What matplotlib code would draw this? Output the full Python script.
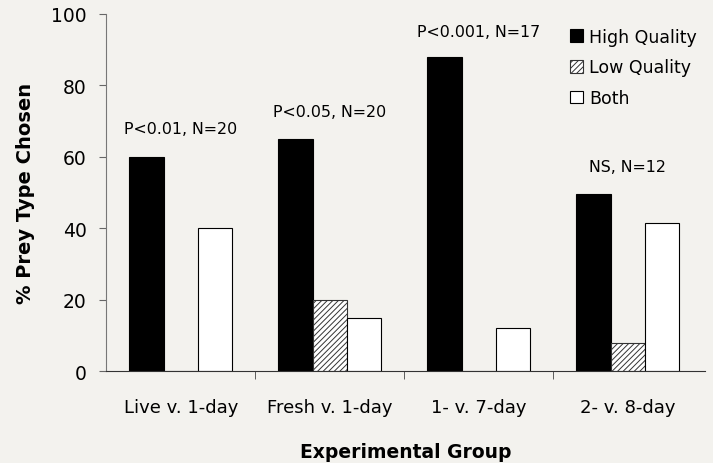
import matplotlib
matplotlib.use("Agg")
import matplotlib.pyplot as plt
import numpy as np

groups = ["Live v. 1-day", "Fresh v. 1-day", "1- v. 7-day", "2- v. 8-day"]
high_quality = [60, 65, 88, 49.5]
low_quality = [0, 20, 0, 8]
both = [40, 15, 12, 41.5]
annotations = ["P<0.01, N=20", "P<0.05, N=20", "P<0.001, N=17", "NS, N=12"]
annot_y = [66.7, 71.4, 93.8, 56]

plt.rcParams['font.family'] = ['DejaVu Sans']
plt.rcParams['hatch.linewidth'] = 0.7
bg = '#f3f2ee'
fig = plt.figure(figsize=(7.13, 4.64), dpi=100, facecolor=bg)
ax = fig.add_axes([0.149, 0.198, 0.84, 0.770], facecolor=bg)

x = np.arange(len(groups))
w = 0.23
ax.bar(x - w, high_quality, w, color='black', edgecolor='black', linewidth=0.8, label='High Quality')
ax.bar(x, low_quality, w, color='white', edgecolor='#333333', hatch='//////', linewidth=0.8, label='Low Quality')
ax.bar(x + w, both, w, color='white', edgecolor='black', linewidth=0.8, label='Both')

for xi, t, yy in zip(x, annotations, annot_y):
    ax.text(xi, yy, t, ha='center', va='baseline', fontsize=11.4)

ax.set_xlim(-0.5, len(groups) - 0.5 + 0.02)
ax.set_ylim(0, 100)
ax.set_yticks([0, 20, 40, 60, 80, 100])
ax.set_xticks(x)
ax.set_xticklabels(groups, fontsize=13)
ax.set_xticks([0.5, 1.5, 2.5], minor=True)
ax.tick_params(axis='x', which='major', length=0, pad=19)
ax.tick_params(axis='x', which='minor', length=6, direction='out', color='#444444')
ax.tick_params(axis='y', labelsize=13.5, length=5, color='#666666', pad=9)
ax.spines['top'].set_visible(False)
ax.spines['right'].set_visible(False)
ax.spines['left'].set_color('#777777')
ax.spines['bottom'].set_color('#333333')

ax.set_ylabel('% Prey Type Chosen', fontsize=14, fontweight='bold', labelpad=12)
ax.set_xlabel('Experimental Group', fontsize=13.5, fontweight='bold', labelpad=19)

leg = ax.legend(loc='upper left', bbox_to_anchor=(0.775, 0.961), frameon=False, fontsize=12.5,
                handlelength=0.75, handleheight=0.75, handletextpad=0.35, labelspacing=0.73,
                borderaxespad=0, borderpad=0)

fig.savefig('out.png', dpi=100, facecolor=bg)
